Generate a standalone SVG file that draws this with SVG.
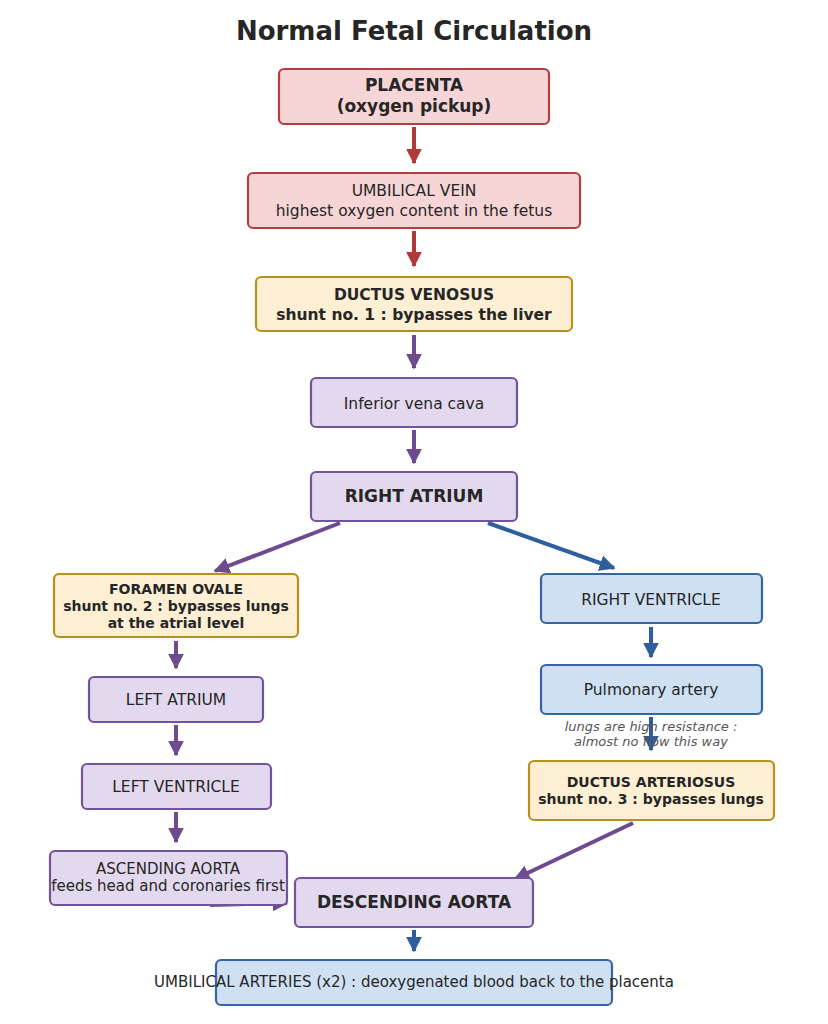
<svg xmlns="http://www.w3.org/2000/svg" width="828" height="1024" viewBox="0 0 828 1024">
<style>
text{font-family:"DejaVu Sans",sans-serif;fill:#262626;text-anchor:middle}
.t{font-size:26px;font-weight:bold}
.b{font-weight:bold}
rect{stroke-width:2.2;rx:5}
.red{fill:#f5d5d5;stroke:#b04040}
.yel{fill:#fcefd3;stroke:#b8901e}
.pur{fill:#e3d9ee;stroke:#72549a}
.blu{fill:#cfe0f3;stroke:#3565a3}
.ar{stroke-width:4;fill:none}
.ar.r{stroke:#b03a3a;marker-end:url(#mr)}
.ar.p{stroke:#6e4a8e;marker-end:url(#mp)}
.ar.bl{stroke:#2f5e9e;marker-end:url(#mb)}
</style>
<defs>
<marker id="mr" viewBox="0 0 10 10" refX="9" refY="5" markerWidth="4" markerHeight="4" orient="auto" markerUnits="strokeWidth"><path d="M0,0L10,5L0,10z" fill="#b03a3a"/></marker>
<marker id="mp" viewBox="0 0 10 10" refX="9" refY="5" markerWidth="4" markerHeight="4" orient="auto" markerUnits="strokeWidth"><path d="M0,0L10,5L0,10z" fill="#6e4a8e"/></marker>
<marker id="mb" viewBox="0 0 10 10" refX="9" refY="5" markerWidth="4" markerHeight="4" orient="auto" markerUnits="strokeWidth"><path d="M0,0L10,5L0,10z" fill="#2f5e9e"/></marker>
</defs>
<rect width="828" height="1024" fill="#fff" style="stroke:none"/>
<text class="t" x="414" y="40">Normal Fetal Circulation</text>
<g id="connectors">
<path class="ar r" d="M414,127V163"/>
<path class="ar r" d="M414,231V266"/>
<path class="ar p" d="M414,335V368"/>
<path class="ar p" d="M414,430V463"/>
<path class="ar p" d="M340,523L215,571"/>
<path class="ar bl" d="M488,523L614,568"/>
<path class="ar p" d="M176,641V668"/>
<path class="ar bl" d="M651,627V657"/>
<path class="ar p" d="M176,725V755"/>
<path class="ar bl" d="M651,717V750"/>
<path class="ar p" d="M176,812V842"/>
<path class="ar p" d="M633,823L515,879"/>
<path class="ar p" d="M210,905L287,903"/>
<path class="ar bl" d="M414,930V951"/>
</g>
<g id="placenta"><rect class="red" x="279" y="69" width="270" height="55"/><text class="b" x="414" y="91" font-size="17">PLACENTA</text><text class="b" x="414" y="112" font-size="17">(oxygen pickup)</text></g>
<g id="umbilical-vein"><rect class="red" x="248" y="173" width="332" height="55"/><text x="414" y="196" font-size="15.5">UMBILICAL VEIN</text><text x="414" y="216" font-size="15.5">highest oxygen content in the fetus</text></g>
<g id="ductus-venosus"><rect class="yel" x="256" y="277" width="316" height="54"/><text class="b" x="414" y="300" font-size="15.5">DUCTUS VENOSUS</text><text class="b" x="414" y="320" font-size="15.5">shunt no. 1 : bypasses the liver</text></g>
<g id="ivc"><rect class="pur" x="311" y="378" width="206" height="49"/><text x="414" y="409" font-size="15.5">Inferior vena cava</text></g>
<g id="right-atrium"><rect class="pur" x="311" y="472" width="206" height="49"/><text class="b" x="414" y="502" font-size="17">RIGHT ATRIUM</text></g>
<g id="foramen-ovale"><rect class="yel" x="54" y="574" width="244" height="63"/><text class="b" x="176" y="594" font-size="14">FORAMEN OVALE</text><text class="b" x="176" y="611" font-size="14">shunt no. 2 : bypasses lungs</text><text class="b" x="176" y="628" font-size="14">at the atrial level</text></g>
<g id="right-ventricle"><rect class="blu" x="541" y="574" width="221" height="49"/><text x="651" y="605" font-size="15.5">RIGHT VENTRICLE</text></g>
<g id="left-atrium"><rect class="pur" x="89" y="677" width="174" height="45"/><text x="176" y="705" font-size="15.5">LEFT ATRIUM</text></g>
<g id="pulmonary-artery"><rect class="blu" x="541" y="665" width="221" height="49"/><text x="651" y="695" font-size="15.5">Pulmonary artery</text></g>
<text x="651" y="731" font-size="13" font-style="italic" style="fill:#555">lungs are high resistance :</text>
<text x="651" y="746" font-size="13" font-style="italic" style="fill:#555">almost no flow this way</text>
<g id="left-ventricle"><rect class="pur" x="82" y="764" width="189" height="45"/><text x="176" y="792" font-size="15.5">LEFT VENTRICLE</text></g>
<g id="ductus-arteriosus"><rect class="yel" x="529" y="761" width="245" height="59"/><text class="b" x="651" y="787" font-size="14">DUCTUS ARTERIOSUS</text><text class="b" x="651" y="804" font-size="14">shunt no. 3 : bypasses lungs</text></g>
<g id="ascending-aorta"><rect class="pur" x="50" y="851" width="237" height="54"/><text x="168" y="874" font-size="15">ASCENDING AORTA</text><text x="168" y="891" font-size="15">feeds head and coronaries first</text></g>
<g id="descending-aorta"><rect class="pur" x="295" y="878" width="238" height="49"/><text class="b" x="414" y="908" font-size="17">DESCENDING AORTA</text></g>
<g id="umbilical-arteries"><rect class="blu" x="216" y="960" width="396" height="45"/><text x="414" y="987" font-size="15">UMBILICAL ARTERIES (x2) : deoxygenated blood back to the placenta</text></g>
</svg>
